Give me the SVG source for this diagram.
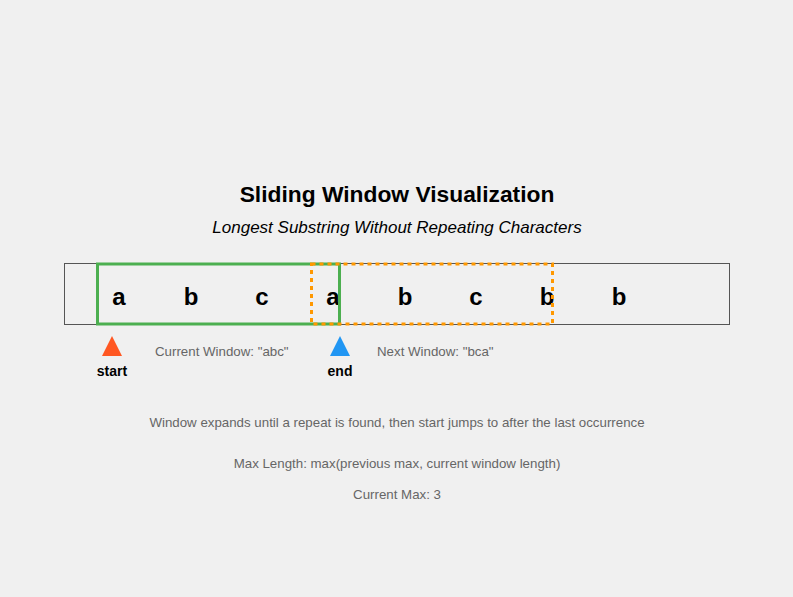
<svg xmlns="http://www.w3.org/2000/svg" width="793" height="597" viewBox="0 0 793 597">
<style>
.title{font-family:"Liberation Sans",Arial,sans-serif;font-size:22.8px;font-weight:bold;fill:#000;text-anchor:middle}
.sub{font-family:"Liberation Sans",Arial,sans-serif;font-size:17px;font-style:italic;fill:#000;text-anchor:middle}
.ch{font-family:"Liberation Sans",Arial,sans-serif;font-size:24px;font-weight:bold;fill:#000;text-anchor:middle}
.lbl{font-family:"Liberation Sans",Arial,sans-serif;font-size:14px;font-weight:bold;fill:#000;text-anchor:middle}
.note{font-family:"Liberation Sans",Arial,sans-serif;font-size:13.3px;fill:#666}
.c{text-anchor:middle}
</style>
<rect width="793" height="597" fill="#f0f0f0"/>
<text class="title" x="397" y="202">Sliding Window Visualization</text>
<text class="sub" x="397" y="233">Longest Substring Without Repeating Characters</text>
<g id="string">
<rect x="64.5" y="263.5" width="665" height="61" fill="none" stroke="#555" stroke-width="1"/>
<text class="ch" x="119" y="305">a</text>
<text class="ch" x="191" y="305">b</text>
<text class="ch" x="262" y="305">c</text>
<text class="ch" x="333" y="305">a</text>
<text class="ch" x="405" y="305">b</text>
<text class="ch" x="476" y="305">c</text>
<text class="ch" x="547" y="305">b</text>
<text class="ch" x="619" y="305">b</text>
</g>
<g id="current-window">
<rect x="97.5" y="264" width="242" height="60" fill="none" stroke="#4CAF50" stroke-width="3"/>
</g>
<g id="next-window">
<rect x="311.5" y="264" width="241" height="60" fill="none" stroke="#FF9800" stroke-width="3" stroke-dasharray="4,4"/>
</g>
<g id="start">
<polygon points="112,336 102,356 122,356" fill="#FF5722"/>
<text class="lbl" x="112" y="376">start</text>
</g>
<g id="end">
<polygon points="340,336 330,356 350,356" fill="#2196F3"/>
<text class="lbl" x="340" y="376">end</text>
</g>
<text class="note" x="155" y="356">Current Window: "abc"</text>
<text class="note" x="377" y="356">Next Window: "bca"</text>
<text class="note c" x="397" y="427">Window expands until a repeat is found, then start jumps to after the last occurrence</text>
<text class="note c" x="397" y="468">Max Length: max(previous max, current window length)</text>
<text class="note c" x="397" y="499">Current Max: 3</text>
</svg>
